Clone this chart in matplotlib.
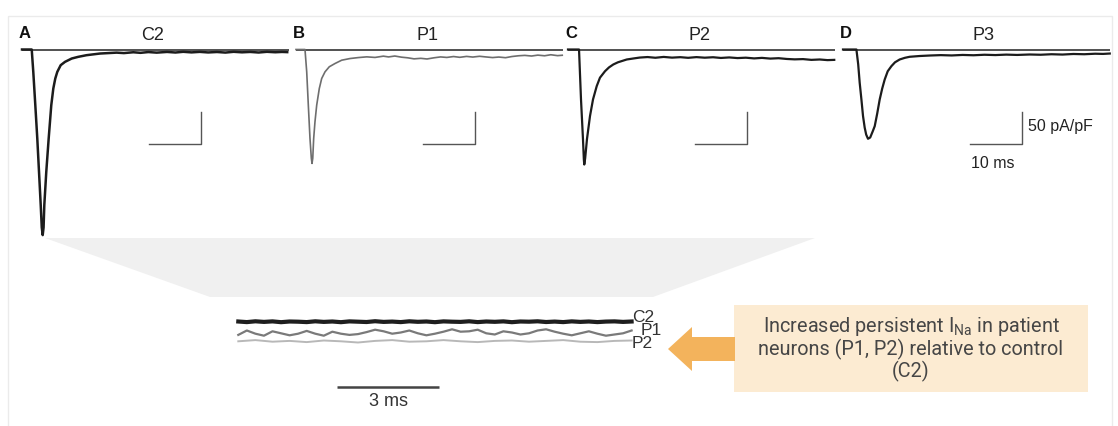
import numpy as np
import matplotlib
matplotlib.use("Agg")
import matplotlib.pyplot as plt
from matplotlib.patches import Polygon, Rectangle

W, H = 1118, 427
PX_MS = 5.2      # pixels per ms in the four top panels
PX_PA = 0.64     # pixels per pA/pF in the four top panels
BASE_Y = 50.5    # pixel row of the zero-current line

# ---- data: sodium current traces (ms, pA/pF) ----
names = ["C2", "P1", "P2", "P3"]
letters = ["A", "B", "C", "D"]

t_c2 = [0, 1.87, 2.17, 2.56, 2.94, 3.27, 3.6, 3.8, 3.98, 4.15, 4.29, 4.67, 5.13, 5.38,
        5.63, 6.02, 6.4, 6.79, 7.44, 8.27, 9.56, 10.8, 12.4, 15.0, 18.2,
        19.6, 21.4, 22.8, 24.3, 25.9, 27.9, 29.5, 31.0, 32.6, 34.2, 35.8, 37.5, 39.1,
        40.7, 42.3, 43.9, 45.5, 47.1, 48.7, 50.0, 51.0]
i_c2 = [0, 0, -34.9, -87, -139, -191, -243, -278, -290, -278, -243, -191, -139, -113,
        -87, -61, -45.3, -34.9, -24.5, -19.3, -14.1, -11.5, -8.9, -6.3, -4.9,
        -5.6, -4.3, -5.2, -4.0, -4.9, -3.8, -4.7, -3.6, -4.5, -3.7, -4.6, -3.9, -4.8,
        -3.6, -4.4, -3.8, -4.7, -3.6, -4.3, -3.8, -4.1]

t_p1 = [0, 1.73, 2.06, 2.37, 2.69, 2.95, 3.08, 3.22, 3.40, 3.65, 3.98, 4.48, 4.94, 5.58,
        6.4, 7.5, 8.79, 10.4, 12.0, 13.6, 15.2, 16.8,
        17.8, 19.0, 20.3, 21.5, 22.7, 24.0, 25.2, 26.5, 27.8, 29.0,
        30.3, 31.5, 32.8, 34.0, 35.3, 36.5, 37.8, 39.0, 40.3, 41.5, 42.8, 44.0, 45.3,
        46.5, 47.8, 49.0, 50.3, 51.2]
i_p1 = [0, 0, -34.9, -87, -139, -170, -178, -170, -139, -113, -87, -61, -45.3, -34.9,
        -27, -21.9, -16.7, -14.1, -12.6, -11.5, -12.4, -10.4,
        -11.6, -10.2, -12.0, -13.0, -14.6, -13.8, -14.8, -13.0, -11.6, -12.4,
        -11.0, -12.2, -10.8, -11.8, -10.6, -11.6, -12.6, -11.8, -12.8, -11.0, -9.8, -9.2, -10.2,
        -8.8, -9.8, -8.2, -9.6, -9.0]

t_p2 = [0, 2.12, 2.5, 2.88, 3.05, 3.13, 3.3, 3.65, 4.23, 4.81, 5.52, 6.15, 7.12, 7.88,
        8.71, 9.6, 11.3, 12.6, 13.8,
        15.3, 16.8, 18.4, 20.0, 21.6, 23.1, 24.7, 26.3, 27.9, 29.4, 31.0, 32.6, 34.2,
        35.8, 37.3, 38.9, 40.5, 42.1, 43.6, 45.2, 46.8, 48.4, 49.9, 51.2]
i_p2 = [0, 0, -78, -140, -172, -179.7, -170, -140, -104, -78, -57.3, -44, -33.9, -28,
        -23.4, -20, -15.6, -14.0, -12.6,
        -11.8, -12.9, -11.6, -12.7, -12.0, -13.0, -11.9, -12.8, -12.1, -13.2, -12.4, -13.4, -12.8,
        -13.9, -13.1, -14.2, -13.6, -14.8, -15.4, -15.0, -16.2, -15.6, -16.6, -16.2]

t_p3 = [0, 2.58, 2.92, 3.21, 3.54, 3.85, 4.17, 4.46, 4.81, 5.23, 5.71, 6.1, 6.58, 7.06,
        7.54, 8.02, 8.6, 9.31, 10.0, 10.9, 11.9, 12.8, 14.7, 16.7,
        18.8, 20.9, 23.0, 25.1, 27.2, 29.3, 31.4, 33.5, 35.9, 38.0, 40.1, 42.2, 44.3,
        46.4, 48.5, 50.0, 51.3]
i_p3 = [0, 0, -23, -52, -78, -104, -122, -133, -139.5, -137.5, -128, -119.8, -100, -78,
        -61, -46.9, -34, -26, -20, -15.6, -13, -11.4, -10.2, -9.4,
        -8.8, -9.3, -8.5, -9.0, -8.2, -8.7, -8.0, -8.5, -7.8, -8.2, -7.4, -7.9, -7.0,
        -7.4, -6.6, -6.9, -6.3]

traces_t = [t_c2, t_p1, t_p2, t_p3]
traces_i = [i_c2, i_p1, i_p2, i_p3]
trace_colors = ["#1c1c1c", "#6e6e6e", "#1c1c1c", "#1c1c1c"]
trace_widths = [1.8, 1.2, 1.6, 1.6]
panel_x0 = [22, 296, 568, 843]   # pixel where t = 0 sits

# ---- data: persistent current inset (ms, arbitrary amplified units) ----
ins_c2 = [0.05, -0.1, 0.1, -0.05, 0.08, -0.12, 0.05, 0.0, -0.1, 0.1, -0.05, 0.05, -0.12, 0.08,
          0.0, -0.08, 0.12, -0.05, 0.03, -0.1, 0.1, -0.03, 0.05, -0.12, 0.08, 0.0, -0.05, 0.1,
          -0.1, 0.05, -0.03, 0.08, -0.12, 0.05, 0.0, 0.1, -0.08, 0.03, -0.1, 0.08, -0.05, 0.05,
          -0.1, 0.03, 0.08, -0.05, 0.05]
ins_p1 = [-3.3, -2.2, -3.0, -3.5, -2.4, -2.9, -3.4, -3.0, -2.3, -3.0, -3.5, -2.5, -3.0, -3.3,
          -3.1, -2.6, -2.0, -2.4, -3.0, -2.7, -2.2, -2.9, -3.4, -3.0, -2.5, -1.9, -2.5, -2.4,
          -2.0, -2.9, -3.2, -2.4, -2.7, -3.2, -2.9, -2.2, -1.9, -2.5, -3.0, -3.4, -2.9, -2.4,
          -3.0, -3.5, -3.2, -2.9, -2.2]
ins_p2 = [-4.9, -4.6, -5.0, -4.8, -5.1, -4.7, -4.9, -5.2, -4.8, -4.6, -5.0, -4.9, -4.6, -4.9,
          -5.1, -4.8, -4.7, -5.0, -4.8, -4.6, -5.0, -5.1, -4.8, -4.7]
ins_len = 11.5
ins_labels = ["C2", "P1", "P2"]
ins_colors = ["#1e1e1e", "#7a7a7a", "#b8b8b8"]
ins_widths = [3.0, 1.6, 1.4]

note_lines = ["Increased persistent I$\\mathregular{_{Na}}$ in patient",
              "neurons (P1, P2) relative to control",
              "(C2)"]


def px_axes(fig, x0, y0, x1, y1):
    # pixel box (top-left origin) -> figure axes
    ax = fig.add_axes([x0 / W, 1 - y1 / H, (x1 - x0) / W, (y1 - y0) / H])
    ax.set_axis_off()
    ax.patch.set_alpha(0)
    return ax


fig = plt.figure(figsize=(W / 100, H / 100), dpi=100)
fig.patch.set_facecolor("white")

bg = px_axes(fig, 0, 0, W, H)
bg.set_xlim(0, W)
bg.set_ylim(H, 0)

# faint frame and the zoom wedge
bg.add_patch(Rectangle((8, 17), 1104, 420, fill=False, ec="#ebebeb", lw=1.0))
bg.add_patch(Polygon([(45, 239), (815, 239), (653, 298), (210, 298)],
                     closed=True, fc="#f0f0f0", ec="none"))

# top panels
for k in range(4):
    x0 = panel_x0[k]
    ax = px_axes(fig, x0 - 10, 20, x0 + 280, 250)
    ax.set_xlim(-10 / PX_MS, 280 / PX_MS)
    ax.set_ylim(-(250 - BASE_Y) / PX_PA, (BASE_Y - 20) / PX_PA)
    ax.plot([0, 51.3], [0, 0], color="#333333", lw=1.2, solid_capstyle="butt")
    ax.plot(traces_t[k], traces_i[k], color=trace_colors[k], lw=trace_widths[k],
            solid_joinstyle="round")
    # scale bar 10 ms / 50 pA/pF
    ax.plot([24.5, 34.5, 34.5], [-147, -147, -97], color="#555555", lw=1.0)
    bg.text(x0 + 3, 33, letters[k], fontsize=12, fontweight="bold",
            family="Liberation Sans", color="#111111", ha="center", va="center")
    bg.text(x0 + 131 + (10 if k == 3 else 0), 35, names[k], fontsize=13,
            family="Liberation Sans", color="#222222", ha="center", va="center")

bg.text(1028, 126, "50 pA/pF", fontsize=11.5, family="Liberation Sans",
        color="#222222", ha="left", va="center")
bg.text(993, 164, "10 ms", fontsize=11.5, family="Liberation Sans",
        color="#222222", ha="center", va="center")

# inset
PX_INS_MS = 34.2
PX_INS_U = 4.0
ix0, iy0 = 238.3, 322.7
ins = px_axes(fig, ix0 - 10, 300, ix0 + 400, 410)
ins.set_xlim(-10 / PX_INS_MS, 400 / PX_INS_MS)
ins.set_ylim(-(410 - iy0) / PX_INS_U, (iy0 - 300) / PX_INS_U)
ins_vals = [ins_c2, ins_p1, ins_p2]
for k in [2, 1, 0]:
    vals = ins_vals[k]
    ins.plot(np.linspace(0, ins_len, len(vals)), vals, color=ins_colors[k], lw=ins_widths[k])
ins.plot([2.88, 5.88], [-16.4, -16.4], color="#444444", lw=1.8, solid_capstyle="butt")
ins.text(4.38, -19.6, "3 ms", fontsize=13, family="Liberation Sans",
         color="#333333", ha="center", va="center")
for lab, x, y in zip(ins_labels, [632, 641, 632], [318, 331, 344]):
    bg.text(x, y, lab, fontsize=12.5, family="Liberation Sans", color="#333333",
            ha="left", va="center")

# note box and arrow
bg.add_patch(Rectangle((734, 306), 354, 87, fc="#fcebd2", ec="none"))
bg.add_patch(Polygon([(668, 350), (692, 328), (692, 338), (735, 338), (735, 362),
                      (692, 362), (692, 372)], closed=True, fc="#f3b35c", ec="none"))
for line, y in zip(note_lines, [327, 349, 371]):
    bg.text(911, y, line, fontsize=14.3, family="Roboto", fontweight="normal",
            color="#464646", ha="center", va="center")

fig.savefig("out.png", dpi=100, facecolor="white")
